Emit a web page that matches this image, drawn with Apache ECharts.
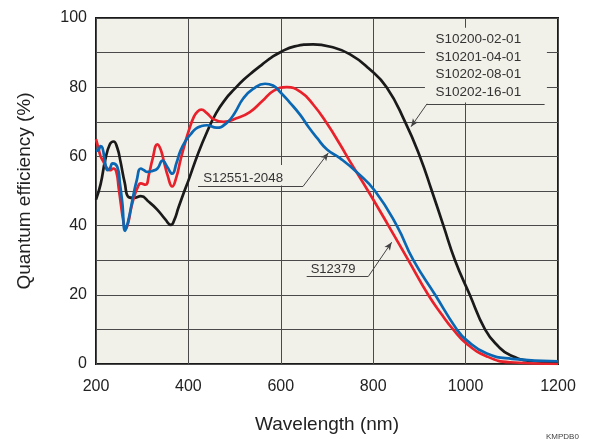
<!DOCTYPE html>
<html><head><meta charset="utf-8">
<script src="https://cdn.jsdelivr.net/npm/echarts@6/dist/echarts.min.js"></script>
<style>html,body{margin:0;padding:0;background:#fff}#c{width:595px;height:439px}</style>
</head><body><div id="c"></div>
<script>
// ---- data (wavelength nm, quantum efficiency %) ----
const blackNm = [200,210,220,230,238,246,253,262,271,282,297,315,332,350,362,370,378,390,400,420,440,460,480,500,520,540,560,580,600,630,670,710,750,790,829,869,901,927,952,977,1009,1042,1070,1096,1146,1200];
const blackQE = [47.5,52,59,63.5,64.3,62.5,58.5,52.5,48.2,48,48.5,46.8,44.7,41.8,40.2,41.8,45,49.5,53,60.5,67,72.5,76.5,79.5,82.2,84.5,86.6,88.6,90.2,91.8,92.4,91.6,89.5,85.5,80,70,60,50,40,30,20,10,5.2,2.6,0.8,0.5];

const redNm = [200,205,210,216,222,230,238,244,249,254,259,264,270,276,283,290,297,307,315,322,333,340,347,355,365,374,383,392,401,412,420,428,440,454,476,504,533,560,585,613,642,670,700,728,750,789,833,876,919,950,973,1002,1046,1096,1200];
const redQE = [65,62.5,60,58.5,57,56,56.5,55.5,51,46,41.5,39,41,45,48.5,51,52.2,51.8,55,59,63.5,62,58.5,54.5,51.3,54,59,63.5,67.5,71.5,73,73.5,72.5,70.8,70,71,72.8,76,79,80,78.7,75,69.5,63.5,58.5,50,40,30,20,14,10,5.9,2.2,0.5,0];

const blueNm = [200,206,210,214,220,225,230,236,246,252,257,263,270,279,288,297,304,311,322,333,344,354,365,374,383,394,405,416,427,440,461,483,500,519,540,566,583,598,620,642,660,678,700,728,764,804,851,887,934,981,1002,1046,1100,1200];
const blueQE = [61.5,62,63,62.5,58,56,56.5,58,57,52,46.5,38.5,41.5,47.5,53,56.5,56,55.5,55.8,56.5,58.8,57,55,58,61.7,64.5,66.4,68,68.7,69,68.3,69.7,72.5,76.8,79.5,81,80.5,78.7,75.5,72,68.5,65.4,62,59.5,55.5,50,40,30,20,10,6.9,3,1.5,0.8];

const xTicks = [200,400,600,800,1000,1200];
const yTicks = [0,20,40,60,80,100];

const labelTop = ['S10200-02-01','S10201-04-01','S10202-08-01','S10202-16-01'];
const labelBlue = 'S12551-2048';
const labelRed = 'S12379';

// ---- chart ----
const FONT = '"Liberation Sans", Arial, Helvetica, sans-serif';
const BG = '#f2f1e9';
const TXT = '#222';
const pairs = (xs, ys) => xs.map((x, i) => [x, ys[i]]);

const chart = echarts.init(document.getElementById('c'), null, {renderer: 'canvas'});

function leader(points, arrow) {
  const segs = [];
  for (let i = 0; i < points.length - 1; i++) {
    const last = i === points.length - 2;
    segs.push([
      {coord: points[i], symbol: 'none'},
      {coord: points[i + 1], symbol: (arrow && last) ? 'arrow' : 'none', symbolSize: [5, 8]}
    ]);
  }
  return segs;
}

const lineSeries = (name, data, color) => ({
  name, type: 'line', data, smooth: 0.5, showSymbol: false, symbol: 'none',
  lineStyle: {color, width: 2.7}, itemStyle: {color}, z: 3
});

const option = {
  animation: false,
  backgroundColor: '#ffffff',
  grid: {left: 96, right: 37, top: 18, bottom: 68, show: true,
         backgroundColor: BG, borderColor: '#1a1a1a', borderWidth: 2},
  xAxis: {
    type: 'value', min: xTicks[0], max: xTicks[xTicks.length - 1], interval: 200,
    name: 'Wavelength (nm)', nameLocation: 'middle', nameGap: 51,
    nameTextStyle: {fontFamily: FONT, fontSize: 19, color: TXT},
    axisLine: {show: false}, axisTick: {show: false},
    axisLabel: {margin: 15, fontFamily: FONT, fontSize: 16, color: TXT, formatter: v => String(v)},
    splitLine: {show: true, lineStyle: {color: '#4a4a4a', width: 1}}
  },
  yAxis: {
    type: 'value', min: yTicks[0], max: yTicks[yTicks.length - 1], interval: 10,
    name: 'Quantum efficiency (%)', nameLocation: 'middle', nameGap: 62,
    nameTextStyle: {fontFamily: FONT, fontSize: 19, color: TXT},
    axisLine: {show: false}, axisTick: {show: false},
    axisLabel: {margin: 9, fontFamily: FONT, fontSize: 16, color: TXT,
                formatter: v => (yTicks.indexOf(v) >= 0 ? String(v) : '')},
    splitLine: {show: true, lineStyle: {color: '#4a4a4a', width: 1}}
  },
  series: [
    Object.assign(lineSeries('S10200', pairs(blackNm, blackQE), '#1a1a1a'), {
      markLine: {
        silent: true, animation: false, label: {show: false},
        lineStyle: {color: '#444', width: 1, type: 'solid'},
        symbol: ['none', 'none'],
        data: [].concat(
          leader([[1171, 75.2], [916.5, 75.2], [882, 68.6]], true),
          leader([[648, 51.3], [420.8, 51.3]], false),
          leader([[648, 51.3], [702.8, 61]], true),
          leader([[656, 25.3], [789.4, 25.3], [840, 35.2]], true)
        )
      }
    }),
    lineSeries('S12379', pairs(redNm, redQE), '#e8212b'),
    lineSeries('S12551-2048', pairs(blueNm, blueQE), '#0a67b3')
  ]
};
chart.setOption(option);

function px(p) { return chart.convertToPixel({gridIndex: 0}, p); }
function boxRect(tl, br) {
  const a = px(tl), b = px(br);
  return {type: 'rect', shape: {x: a[0], y: a[1], width: b[0] - a[0], height: b[1] - a[1]},
          style: {fill: BG}, z: 1, silent: true};
}
function txt(p, s, size) {
  const a = px(p);
  return {type: 'text', x: a[0], y: a[1], z: 5, silent: true,
          style: {text: s, fill: '#333', font: size + 'px ' + FONT, textAlign: 'left', textVerticalAlign: 'middle'}};
}
const gfx = [
  boxRect([912, 97.2], [1176, 75.6]),
  boxRect([420.8, 57.5], [645, 51.6]),
  boxRect([654, 29.3], [792, 25.6])
];
const topY = [93.8, 88.7, 83.6, 78.5];
labelTop.forEach((s, i) => gfx.push(txt([935, topY[i]], s, 13.5)));
gfx.push(txt([432, 53.8], labelBlue, 13.3));
gfx.push(txt([664.7, 27.3], labelRed, 13));
gfx.push({type: 'text', x: 546, y: 433, z: 5, silent: true,
          style: {text: 'KMPDB0', fill: '#444', font: '8px ' + FONT, textAlign: 'left', textVerticalAlign: 'top'}});
chart.setOption({graphic: gfx});
</script>
</body></html>
